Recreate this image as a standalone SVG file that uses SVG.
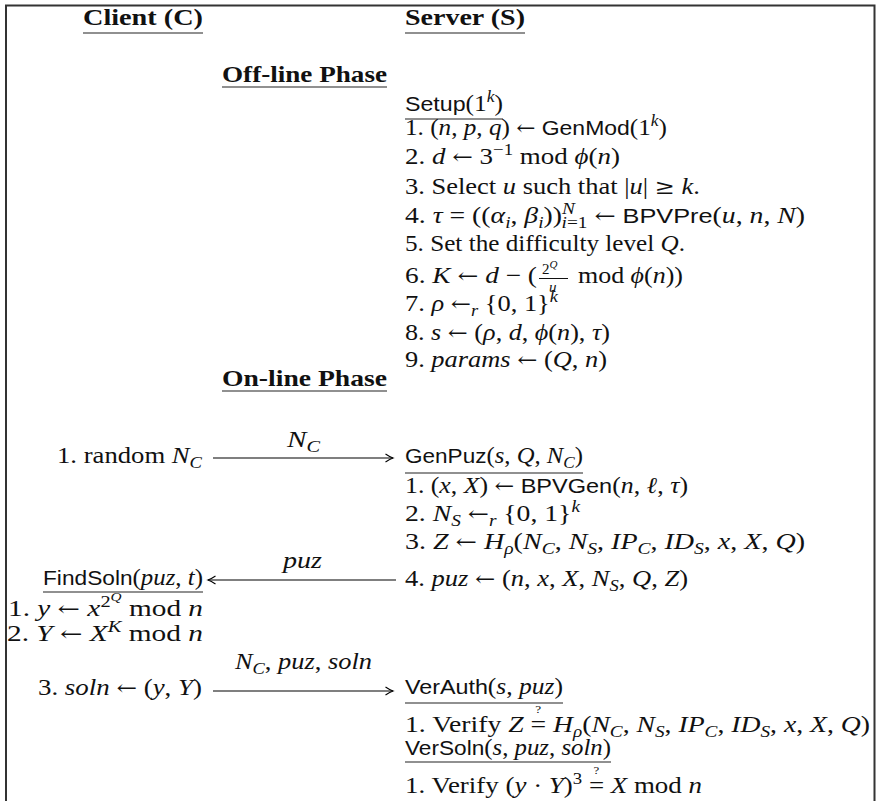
<svg xmlns="http://www.w3.org/2000/svg" width="876" height="801" viewBox="0 0 876 801">
<style>
text{font-family:"Liberation Serif","Times New Roman",serif;font-size:23px;fill:#111}
.b{font-weight:bold}
.i{font-style:italic}
.sf{font-family:"Liberation Sans",Arial,sans-serif;font-size:21px}
.ar{font-family:"DejaVu Serif","DejaVu Sans",serif;font-size:21px;font-style:normal}
.sup{font-size:16px;baseline-shift:9px}
.sub{font-size:16px;baseline-shift:-5px}
.sup2{font-size:12px;baseline-shift:15px}
.qq{font-size:11px;baseline-shift:19px;font-style:normal}
.ul{stroke:#222;stroke-width:1.2}
.frame{fill:none;stroke:#333;stroke-width:2}
.arr{stroke:#000;stroke-width:1.1;fill:none;marker-end:url(#ah)}
</style>
<defs>
<marker id="ah" markerWidth="12" markerHeight="12" refX="9" refY="6" orient="auto" markerUnits="userSpaceOnUse" overflow="visible">
<path d="M1.5,2 Q6,5 9,6 Q6,7 1.5,10" fill="none" stroke="#000" stroke-width="1.1"/>
</marker>
</defs>
<rect width="876" height="801" fill="#fff"/>
<path class="frame" d="M6,801 V5.5 H874.5 V801"/>

<g id="headers">
<text class="b" x="83" y="25" textLength="120" lengthAdjust="spacingAndGlyphs">Client (C)</text>
<line class="ul" x1="83" y1="33" x2="203" y2="33"/>
<text class="b" x="405" y="25" textLength="120" lengthAdjust="spacingAndGlyphs">Server (S)</text>
<line class="ul" x1="405" y1="33" x2="525" y2="33"/>
</g>

<g id="offline-phase">
<text class="b" x="222" y="82" textLength="165" lengthAdjust="spacingAndGlyphs">Off-line Phase</text>
<line class="ul" x1="222" y1="87" x2="387" y2="87"/>
</g>

<g id="setup">
<text x="405" y="111" textLength="98" lengthAdjust="spacingAndGlyphs"><tspan class="sf">Setup</tspan>(1<tspan class="sup i">k</tspan>)</text>
<line class="ul" x1="405" y1="119" x2="503" y2="119"/>
<text x="405" y="135" textLength="262" lengthAdjust="spacingAndGlyphs">1. (<tspan class="i">n</tspan>, <tspan class="i">p</tspan>, <tspan class="i">q</tspan>) <tspan class="ar">←</tspan> <tspan class="sf">GenMod</tspan>(1<tspan class="sup i">k</tspan>)</text>
<text x="405" y="164" textLength="215" lengthAdjust="spacingAndGlyphs">2. <tspan class="i">d</tspan> <tspan class="ar">←</tspan> 3<tspan class="sup">−1</tspan> mod <tspan class="i">ϕ</tspan>(<tspan class="i">n</tspan>)</text>
<text x="405" y="194" textLength="295" lengthAdjust="spacingAndGlyphs">3. Select <tspan class="i">u</tspan> such that |<tspan class="i">u</tspan>| <tspan class="ar">≥</tspan> <tspan class="i">k</tspan>.</text>
<text x="405" y="223" textLength="400" lengthAdjust="spacingAndGlyphs">4. <tspan class="i">τ</tspan> = ((<tspan class="i">α</tspan><tspan class="sub i">i</tspan>, <tspan class="i">β</tspan><tspan class="sub i">i</tspan>))<tspan class="sup i">N</tspan><tspan class="sub" dx="-11"><tspan class="i">i</tspan>=1</tspan> <tspan class="ar">←</tspan> <tspan class="sf">BPVPre</tspan>(<tspan class="i">u</tspan>, <tspan class="i">n</tspan>, <tspan class="i">N</tspan>)</text>
<text x="405" y="251" textLength="280" lengthAdjust="spacingAndGlyphs">5. Set the difficulty level <tspan class="i">Q</tspan>.</text>
<text x="405" y="283" textLength="132" lengthAdjust="spacingAndGlyphs">6. <tspan class="i">K</tspan> <tspan class="ar">←</tspan> <tspan class="i">d</tspan> − (</text>
<text style="font-size:15px"><tspan x="542" y="274">2</tspan><tspan class="i" style="font-size:11px;baseline-shift:6px">Q</tspan><tspan class="i" x="549" y="292">u</tspan></text>
<line x1="539" y1="278.5" x2="568" y2="278.5" stroke="#111" stroke-width="1"/>
<text x="578" y="283" textLength="105" lengthAdjust="spacingAndGlyphs">mod <tspan class="i">ϕ</tspan>(<tspan class="i">n</tspan>))</text>
<text x="405" y="311" textLength="153" lengthAdjust="spacingAndGlyphs">7. <tspan class="i">ρ</tspan> <tspan class="ar">←</tspan><tspan class="sub i">r</tspan> {0, 1}<tspan class="sup i">k</tspan></text>
<text x="405" y="340" textLength="205" lengthAdjust="spacingAndGlyphs">8. <tspan class="i">s</tspan> <tspan class="ar">←</tspan> (<tspan class="i">ρ</tspan>, <tspan class="i">d</tspan>, <tspan class="i">ϕ</tspan>(<tspan class="i">n</tspan>), <tspan class="i">τ</tspan>)</text>
<text x="405" y="367" textLength="202" lengthAdjust="spacingAndGlyphs">9. <tspan class="i">params</tspan> <tspan class="ar">←</tspan> (<tspan class="i">Q</tspan>, <tspan class="i">n</tspan>)</text>
</g>

<g id="online-phase">
<text class="b" x="222" y="386" textLength="165" lengthAdjust="spacingAndGlyphs">On-line Phase</text>
<line class="ul" x1="222" y1="391" x2="387" y2="391"/>
</g>

<g id="client-random">
<text x="57" y="463" textLength="145" lengthAdjust="spacingAndGlyphs">1. random <tspan class="i">N</tspan><tspan class="sub i">C</tspan></text>
</g>

<g id="server-genpuz">
<text x="405" y="463" textLength="178" lengthAdjust="spacingAndGlyphs"><tspan class="sf">GenPuz</tspan>(<tspan class="i">s</tspan>, <tspan class="i">Q</tspan>, <tspan class="i">N</tspan><tspan class="sub i">C</tspan>)</text>
<line class="ul" x1="405" y1="473" x2="583" y2="473"/>
<text x="405" y="493" textLength="283" lengthAdjust="spacingAndGlyphs">1. (<tspan class="i">x</tspan>, <tspan class="i">X</tspan>) <tspan class="ar">←</tspan> <tspan class="sf">BPVGen</tspan>(<tspan class="i">n</tspan>, <tspan class="i">ℓ</tspan>, <tspan class="i">τ</tspan>)</text>
<text x="405" y="521" textLength="175" lengthAdjust="spacingAndGlyphs">2. <tspan class="i">N</tspan><tspan class="sub i">S</tspan> <tspan class="ar">←</tspan><tspan class="sub i">r</tspan> {0, 1}<tspan class="sup i">k</tspan></text>
<text x="405" y="549" textLength="400" lengthAdjust="spacingAndGlyphs">3. <tspan class="i">Z</tspan> <tspan class="ar">←</tspan> <tspan class="i">H</tspan><tspan class="sub i">ρ</tspan>(<tspan class="i">N</tspan><tspan class="sub i">C</tspan>, <tspan class="i">N</tspan><tspan class="sub i">S</tspan>, <tspan class="i">IP</tspan><tspan class="sub i">C</tspan>, <tspan class="i">ID</tspan><tspan class="sub i">S</tspan>, <tspan class="i">x</tspan>, <tspan class="i">X</tspan>, <tspan class="i">Q</tspan>)</text>
<text x="405" y="586" textLength="283" lengthAdjust="spacingAndGlyphs">4. <tspan class="i">puz</tspan> <tspan class="ar">←</tspan> (<tspan class="i">n</tspan>, <tspan class="i">x</tspan>, <tspan class="i">X</tspan>, <tspan class="i">N</tspan><tspan class="sub i">S</tspan>, <tspan class="i">Q</tspan>, <tspan class="i">Z</tspan>)</text>
</g>

<g id="client-findsoln">
<text x="43" y="585" textLength="160" lengthAdjust="spacingAndGlyphs"><tspan class="sf">FindSoln</tspan>(<tspan class="i">puz</tspan>, <tspan class="i">t</tspan>)</text>
<line class="ul" x1="43" y1="592" x2="203" y2="592"/>
<text x="8" y="616" textLength="195" lengthAdjust="spacingAndGlyphs">1. <tspan class="i">y</tspan> <tspan class="ar">←</tspan> <tspan class="i">x</tspan><tspan class="sup">2</tspan><tspan class="sup2 i">Q</tspan> mod <tspan class="i">n</tspan></text>
<text x="7" y="641" textLength="196" lengthAdjust="spacingAndGlyphs">2. <tspan class="i">Y</tspan> <tspan class="ar">←</tspan> <tspan class="i">X</tspan><tspan class="sup i">K</tspan> mod <tspan class="i">n</tspan></text>
<text x="38" y="695" textLength="164" lengthAdjust="spacingAndGlyphs">3. <tspan class="i">soln</tspan> <tspan class="ar">←</tspan> (<tspan class="i">y</tspan>, <tspan class="i">Y</tspan>)</text>
</g>

<g id="server-verify">
<text x="405" y="694" textLength="158" lengthAdjust="spacingAndGlyphs"><tspan class="sf">VerAuth</tspan>(<tspan class="i">s</tspan>, <tspan class="i">puz</tspan>)</text>
<line class="ul" x1="405" y1="703" x2="563" y2="703"/>
<text x="405" y="732" textLength="465" lengthAdjust="spacingAndGlyphs">1. Verify <tspan class="i">Z</tspan> =<tspan class="qq" dx="-9">?</tspan> <tspan class="i" dx="4">H</tspan><tspan class="sub i">ρ</tspan>(<tspan class="i">N</tspan><tspan class="sub i">C</tspan>, <tspan class="i">N</tspan><tspan class="sub i">S</tspan>, <tspan class="i">IP</tspan><tspan class="sub i">C</tspan>, <tspan class="i">ID</tspan><tspan class="sub i">S</tspan>, <tspan class="i">x</tspan>, <tspan class="i">X</tspan>, <tspan class="i">Q</tspan>)</text>
<text x="405" y="755" textLength="206" lengthAdjust="spacingAndGlyphs"><tspan class="sf">VerSoln</tspan>(<tspan class="i">s</tspan>, <tspan class="i">puz</tspan>, <tspan class="i">soln</tspan>)</text>
<line class="ul" x1="405" y1="762" x2="611" y2="762"/>
<text x="405" y="793" textLength="297" lengthAdjust="spacingAndGlyphs">1. Verify (<tspan class="i">y</tspan> · <tspan class="i">Y</tspan>)<tspan class="sup">3</tspan> =<tspan class="qq" dx="-9">?</tspan> <tspan class="i" dx="4">X</tspan> mod <tspan class="i">n</tspan></text>
</g>

<g id="connectors">
<path class="arr" d="M213,458 H393"/>
<text x="287" y="447" textLength="33" lengthAdjust="spacingAndGlyphs"><tspan class="i">N</tspan><tspan class="sub i">C</tspan></text>
<path class="arr" d="M396,580 H208"/>
<text class="i" x="283" y="568" textLength="39" lengthAdjust="spacingAndGlyphs">puz</text>
<path class="arr" d="M213,691 H393"/>
<text x="235" y="669" textLength="137" lengthAdjust="spacingAndGlyphs"><tspan class="i">N</tspan><tspan class="sub i">C</tspan>, <tspan class="i">puz</tspan>, <tspan class="i">soln</tspan></text>
</g>
</svg>
